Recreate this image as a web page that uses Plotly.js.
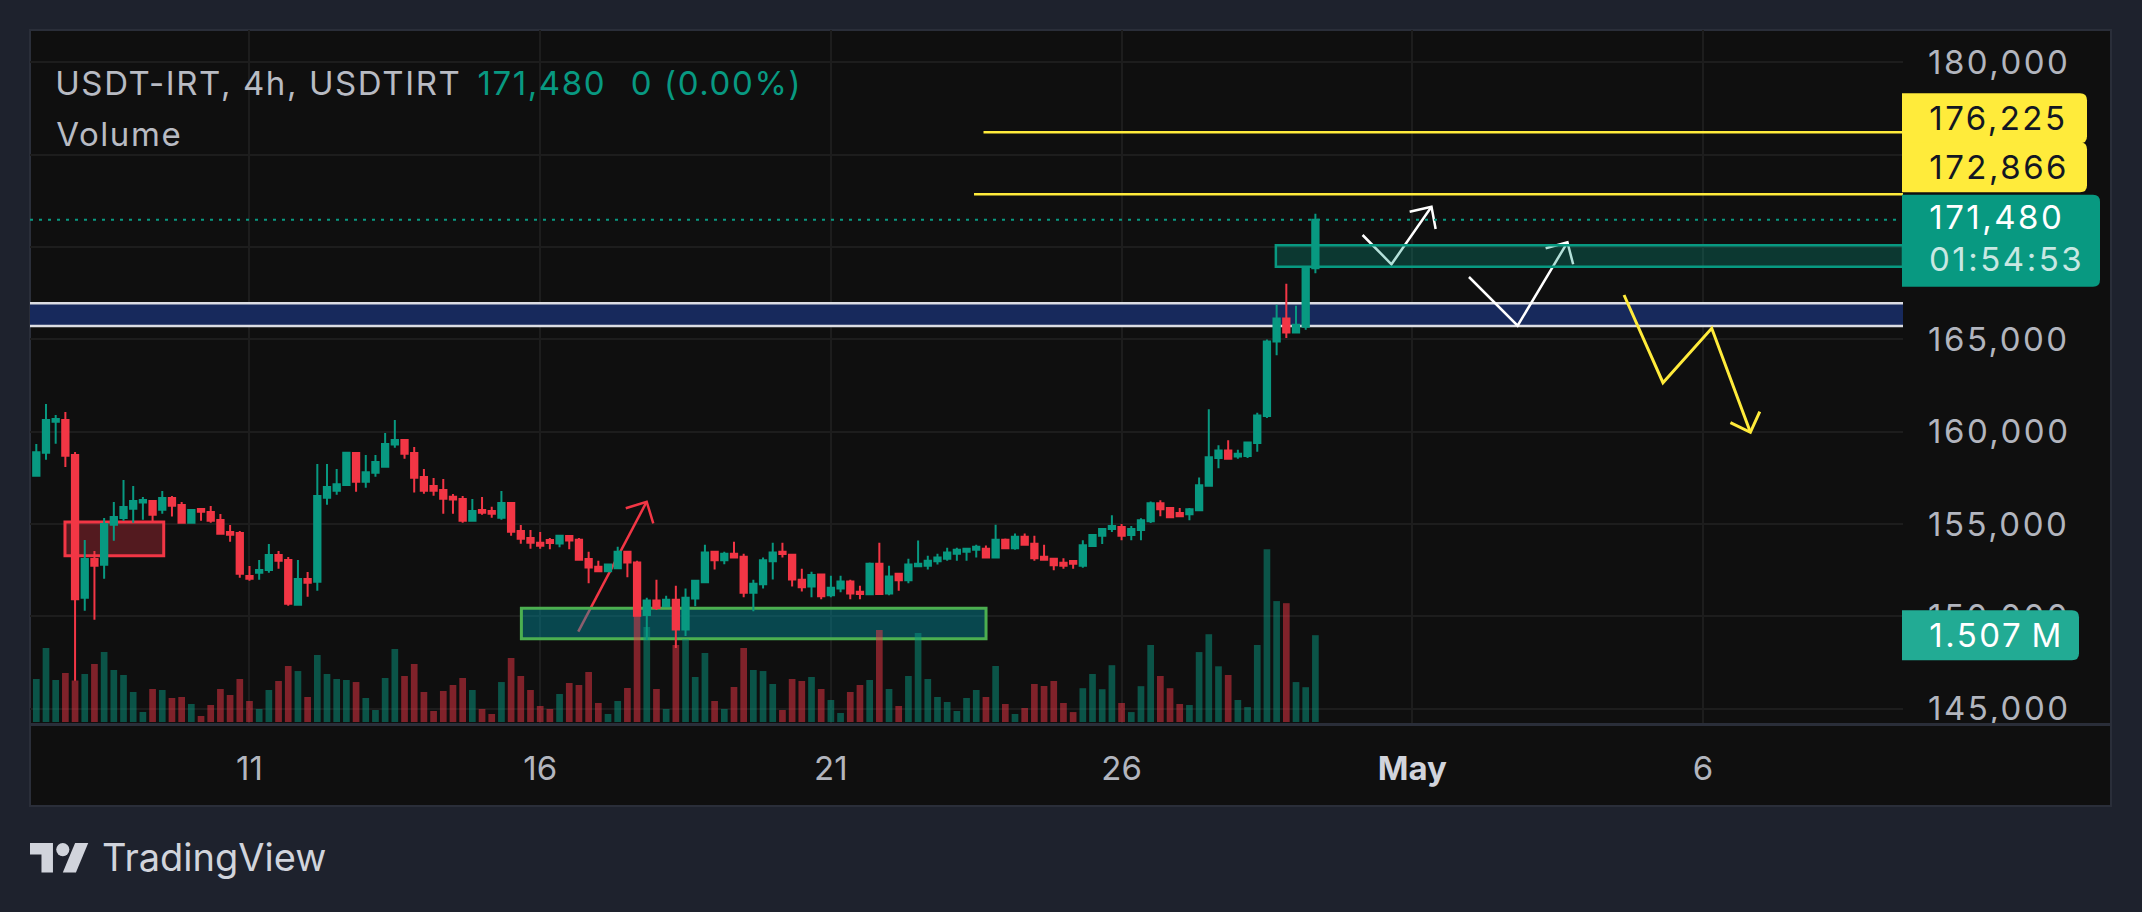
<!DOCTYPE html>
<html>
<head>
<meta charset="utf-8">
<script src="https://cdn.plot.ly/plotly-3.0.1.min.js"></script>
<style>
html,body{margin:0;padding:0;background:#1e222d;overflow:hidden;}
#chart{width:2142px;height:912px;}
.ytick text{letter-spacing:2.5px;}
g.annotation[data-index="0"] text, g.annotation[data-index="1"] text,
g.annotation[data-index="2"] text, g.annotation[data-index="3"] text{letter-spacing:1.6px;}
g.annotation[data-index="4"] text, g.annotation[data-index="5"] text,
g.annotation[data-index="6"] text, g.annotation[data-index="7"] text,
g.annotation[data-index="8"] text{letter-spacing:2.5px;}
</style>
</head>
<body>
<div id="chart"></div>
<script>
// ---------------- DATA (USDT-IRT, 4h candles) ----------------
const symbolTitle = 'USDT-IRT, 4h, USDTIRT';
const lastPriceText = '171,480';
const changeText = '0 (0.00%)';
const countdownText = '01:54:53';
const volumeLabelText = '1.507\u2009M';
const firstCandleUTC = [2025, 3, 7, 8]; // 7 Apr 2025 08:00
const candleHours = 4;

const open = [157620,158860,160540,160630,158740,151010,153100,152790,154960,155320,
155830,156170,156240,155770,156410,156030,155070,155810,155650,155210,
154560,154510,152180,152360,152510,153320,153050,150630,152020,151870,
156420,156800,157110,158840,157290,157780,158100,159310,159550,158840,
157540,157060,156840,156480,156350,155180,155760,155700,155340,156140,
154620,154240,153990,154130,153950,154350,154150,153100,152690,152440,
152600,153500,152910,150070,150850,150540,150900,149290,150970,151840,
153500,153030,153390,153230,151280,151730,152980,153500,153340,151980,
151620,152260,151140,151510,151880,151330,151190,152850,151240,152310,
151950,152710,152740,152980,153120,153390,153500,153610,153660,153180,
154150,153680,154310,153930,153230,153120,152900,152990,152740,153810,
154360,154730,154840,154400,154670,155150,156130,155860,155590,155530,
155750,157070,158580,158980,158650,158690,159390,160850,164880,166130,
165380,165690,168850];

const high = [159330,161500,160900,161070,158900,154130,153540,155320,156190,157380,
157060,156460,156300,156790,156510,156190,155760,155810,155970,155540,
154940,154620,152720,153050,153910,153540,153210,153050,152400,158250,
158250,157980,158900,158900,158740,158740,159930,160630,159600,159170,
157980,157490,157440,156620,156510,156350,156460,155940,156790,156140,
154940,154670,154560,154240,154420,154350,154240,153500,153010,152830,
153770,153500,153010,151010,151980,151120,151660,151500,151980,153880,
153500,153500,154040,153390,151980,153180,153990,153990,153340,152580,
152420,152310,152200,152200,151980,151660,152910,153990,152740,152360,
153120,154100,153280,153390,153720,153720,153660,153880,153830,154960,
154210,154480,154480,154370,153880,153130,153140,153030,154120,154450,
154730,155480,155000,154890,155310,156220,156280,155860,155860,155860,
157520,161210,159260,159530,159020,159420,161030,164990,166880,168010,
166820,168850,171810];

const low = [157560,158480,159350,158090,146510,150300,149810,152040,154090,155180,
155070,155230,155110,155560,155400,155070,155070,155180,155070,154470,
154040,152090,151930,151980,152360,152580,150570,150630,151060,151390,
156040,156590,157070,156750,156970,157560,158100,159130,158540,156700,
156640,156530,155560,155560,155070,155180,155500,155340,155230,154370,
153930,153660,153660,153630,153740,153630,153030,151790,152380,152380,
152600,152110,150030,148720,150340,150540,148280,148930,150540,151840,
152540,152820,153140,151030,150270,151510,152000,153190,151620,151350,
151030,150920,151030,151300,150920,150920,151190,151190,151140,151390,
151790,152710,152530,152800,153010,153010,153010,153180,153180,153180,
153680,153610,153880,153010,153010,152490,152570,152570,152630,153760,
153920,154560,154120,154120,154120,155060,155420,155370,155420,155200,
155690,157070,158020,158530,158530,158580,158910,160740,164140,165070,
165380,165520,168580];

const close = [158880,160630,160690,158700,150920,153100,152740,155000,155380,155920,
156240,156300,155500,156410,155990,155070,155760,155670,155180,154470,
154420,152310,152040,152510,153320,153010,150680,152020,151820,156510,
157000,157160,158860,157290,157810,158360,159330,159550,158810,157510,
156800,156800,156370,156330,155180,155700,155610,155560,156140,154580,
154200,153990,153820,153970,154370,154100,153070,152650,152440,152800,
153500,152920,150030,150850,150450,150900,149290,151010,151930,153450,
153030,153390,153180,151280,151770,153030,153450,153380,152000,151570,
152240,151080,151550,151880,151240,151210,152850,151210,152150,151950,
152800,152850,153010,153180,153450,153610,153660,153770,153180,154150,
153680,154310,153880,153140,153070,152760,152740,152850,153850,154400,
154730,154890,154360,154730,155200,156130,155800,155370,155420,155800,
157100,158620,158980,158530,158800,159420,160880,164880,166130,165380,
165800,168850,171480];

// volume in millions
const volumeM = [0.747,1.285,0.729,0.851,0.720,0.833,1.007,1.215,0.903,0.816,
0.521,0.174,0.573,0.556,0.417,0.434,0.313,0.104,0.295,0.573,
0.469,0.747,0.365,0.226,0.556,0.712,0.972,0.885,0.434,1.163,
0.833,0.747,0.729,0.694,0.417,0.208,0.764,1.267,0.799,1.007,
0.521,0.191,0.538,0.642,0.764,0.556,0.226,0.139,0.694,1.111,
0.799,0.556,0.278,0.226,0.486,0.677,0.642,0.868,0.330,0.139,
0.365,0.590,1.950,1.649,0.573,0.226,1.337,1.441,0.781,1.198,
0.365,0.226,0.608,1.285,0.903,0.885,0.660,0.208,0.747,0.712,
0.781,0.573,0.382,0.156,0.521,0.642,0.729,1.597,0.573,0.278,
0.799,1.545,0.747,0.434,0.347,0.191,0.417,0.556,0.434,0.972,
0.313,0.139,0.243,0.660,0.625,0.712,0.330,0.172,0.587,0.833,
0.569,0.986,0.330,0.172,0.622,1.337,0.799,0.587,0.313,0.295,
1.214,1.524,0.967,0.816,0.382,0.259,1.337,3.000,2.099,2.063,
0.693,0.604,1.507];

const priceTicks = [145000,150000,155000,160000,165000,170000,175000,180000];
const dateTickVals = ['2025-04-11','2025-04-16','2025-04-21','2025-04-26','2025-05-01','2025-05-06'];
const dateTickText = ['11','16','21','26','<b><span style="color:#d1d4dc">May</span></b>','6'];

const lastPrice = 171480;
const lastVolume = 1.507e6;
const yellowLevels = [176225, 172866];
const yellowLevelStart = [97.75, 96.77];       // candle index where the lines start

// user drawings (candle index, price)
const blueBand = [165726, 166955];
const tealBox = {i0: 127.92, p0: 168938, p1: 170097};
const redBox = {i0: 2.96, i1: 13.15, p0: 153283, p1: 155108};
const greenBox = {i0: 50.06, i1: 98.01, p0: 148787, p1: 150434};
const redArrow = [[55.93,149166],[62.99,156208]];
const redArrowHead = [[60.83,155851],[62.99,156208],[63.67,155038]];
const whiteArrow1 = [[136.87,170655],[139.85,169068],[143.98,172188]];
const whiteArrow1Head = [[141.73,171917],[143.98,172188],[144.41,170980]];
const whiteArrow2 = [[147.85,168380],[152.87,165742],[158.01,170260]];
const whiteArrow2Head = [[155.76,169935],[158.01,170260],[158.60,169068]];
const yellowPath = [[163.85,167405],[167.87,162654],[172.90,165601],[176.89,159968]];
const yellowPathHead = [[174.83,160488],[176.89,159968],[177.86,161083]];

// ---------------- helpers ----------------
const T0 = Date.UTC(firstCandleUTC[0], firstCandleUTC[1], firstCandleUTC[2], firstCandleUTC[3]);
function tAt(idx){
  const d = new Date(T0 + idx * candleHours * 3600e3);
  return d.toISOString().slice(0,19).replace('T',' ');
}
function tPath(idx){ return tAt(idx).replace(' ','_'); }
function pathOf(pts){ return pts.map((p,k)=>(k?'L':'M')+tPath(p[0])+','+p[1]).join(' '); }

const xs = open.map((_, i) => tAt(i));
const volume = volumeM.map(v => v * 1e6);
const GREEN = '#089981', RED = '#f23645';
const volColors = close.map((c,i)=> c >= open[i] ? 'rgba(8,153,129,0.5)' : 'rgba(242,54,69,0.5)');

// geometry of the plot area (pixels)
const W = 2142, H = 912;
const L = 30, R = 1903, T = 30, B = 724;
const PANEL_R = 2111, PANEL_B = 806;
const px = x => (x - L) / (R - L);
const py = y => (B - y) / (B - T);

const idxStart = -0.65, idxEnd = 192.64;
const xStart = tAt(idxStart), xEnd = tAt(idxEnd);
const yMin = 144166, yMax = 181760;
const volMin = -34724, volMax = 12014504;
const yPix = p => T + (yMax - p) / (yMax - yMin) * (B - T);

const FONT = 'Inter, Roboto, "Noto Sans", sans-serif';
const GRID = '#1d1d1d';

// ---------------- traces ----------------
const candleTrace = {
  type: 'candlestick', x: xs, open: open, high: high, low: low, close: close,
  xaxis: 'x', yaxis: 'y', whiskerwidth: 0, hoverinfo: 'skip',
  increasing: {line: {color: GREEN, width: 2}, fillcolor: GREEN},
  decreasing: {line: {color: RED, width: 2}, fillcolor: RED}
};
const volTrace = {
  type: 'bar', x: xs, y: volume, xaxis: 'x', yaxis: 'y2',
  marker: {color: volColors, line: {width: 0}}, hoverinfo: 'skip'
};

// ---------------- shapes ----------------
function rectPx(x0,y0,x1,y1,fill,line,lw,layer){
  return {type:'rect', xref:'paper', yref:'paper', x0:px(x0), x1:px(x1), y0:py(y0), y1:py(y1),
    fillcolor:fill, line:{color:line||'rgba(0,0,0,0)', width:lw||0}, layer:layer||'below'};
}
function labelShape(x0,y0,x1,y1,fill){
  const r = 7;
  const d = 'M'+px(x0)+','+py(y0)+' L'+px(x1-r)+','+py(y0)+
    ' Q'+px(x1)+','+py(y0)+' '+px(x1)+','+py(y0+r)+
    ' L'+px(x1)+','+py(y1-r)+
    ' Q'+px(x1)+','+py(y1)+' '+px(x1-r)+','+py(y1)+
    ' L'+px(x0)+','+py(y1)+' Z';
  return {type:'path', xref:'paper', yref:'paper', path:d, fillcolor:fill, line:{width:0}, layer:'above'};
}

const shapes = [];
// panel background + border
shapes.push(rectPx(L, T, PANEL_R, PANEL_B, '#0f0f0f', '#2a2e39', 2, 'below'));
// blue band
shapes.push({type:'rect', xref:'x', yref:'y', x0:xStart, x1:xEnd, y0:blueBand[0], y1:blueBand[1],
  fillcolor:'#17295c', line:{width:0}, layer:'between'});
blueBand.forEach(p => shapes.push({type:'line', xref:'x', yref:'y', x0:xStart, x1:xEnd, y0:p, y1:p,
  line:{color:'#dcdde3', width:2.5}, layer:'between'}));
// arrows
shapes.push({type:'path', xref:'x', yref:'y', path:pathOf(redArrow), line:{color:RED, width:2.5}, layer:'between'});
shapes.push({type:'path', xref:'x', yref:'y', path:pathOf(redArrowHead), line:{color:RED, width:2.5}, layer:'between'});
[whiteArrow1, whiteArrow1Head, whiteArrow2, whiteArrow2Head].forEach(a =>
  shapes.push({type:'path', xref:'x', yref:'y', path:pathOf(a), line:{color:'#ffffff', width:2.5}, layer:'between'}));
[yellowPath, yellowPathHead].forEach(a =>
  shapes.push({type:'path', xref:'x', yref:'y', path:pathOf(a), line:{color:'#ffeb3b', width:3}, layer:'between'}));
// boxes
shapes.push({type:'rect', xref:'x', yref:'y', x0:tAt(tealBox.i0), x1:xEnd, y0:tealBox.p0, y1:tealBox.p1,
  fillcolor:'rgba(8,153,129,0.3)', line:{color:GREEN, width:2.5}, layer:'between'});
shapes.push({type:'rect', xref:'x', yref:'y', x0:tAt(redBox.i0), x1:tAt(redBox.i1), y0:redBox.p0, y1:redBox.p1,
  fillcolor:'rgba(242,54,69,0.3)', line:{color:RED, width:3}, layer:'between'});
shapes.push({type:'rect', xref:'x', yref:'y', x0:tAt(greenBox.i0), x1:tAt(greenBox.i1), y0:greenBox.p0, y1:greenBox.p1,
  fillcolor:'rgba(0,151,167,0.42)', line:{color:'#4caf50', width:3}, layer:'between'});
// yellow horizontal levels
yellowLevels.forEach((p,k) => shapes.push({type:'line', xref:'x', yref:'y', x0:tAt(yellowLevelStart[k]), x1:xEnd,
  y0:p, y1:p, line:{color:'#ffeb3b', width:2.5}, layer:'between'}));
// last price dotted line
shapes.push({type:'line', xref:'x', yref:'y', x0:xStart, x1:xEnd, y0:lastPrice, y1:lastPrice,
  line:{color:GREEN, width:2, dash:'3px,6px'}, layer:'between'});
// separator between pane and time axis
shapes.push(rectPx(L, B-1, PANEL_R, B+2, '#2a2e39', null, 0, 'above'));

// price-scale labels
const yl1 = yPix(yellowLevels[0]) - 14, yl2 = yPix(yellowLevels[1]) - 27;
shapes.push(labelShape(1902, yl1-25, 2087, yl1+25, '#ffeb3b'));
shapes.push(labelShape(1902, yl2-25, 2087, yl2+25, '#ffeb3b'));
const ylp = yPix(lastPrice);
shapes.push(labelShape(1902, ylp-25, 2100, ylp+67, GREEN));
const volPix = T + (volMax - lastVolume) / (volMax - volMin) * (B - T);
shapes.push(labelShape(1902, volPix-25, 2079, volPix+25, '#22ab94'));

// TradingView logo
const s = 1.64, ox = 30, oy = 836.5;
const lp = (x,y) => px(ox + x*s) + ',' + py(oy + y*s);
shapes.push({type:'path', xref:'paper', yref:'paper', layer:'above', fillcolor:'#d1d4dc', line:{width:0},
  path:'M'+lp(14,22)+' L'+lp(7,22)+' L'+lp(7,11)+' L'+lp(0,11)+' L'+lp(0,4)+' L'+lp(14,4)+' Z'});
shapes.push({type:'circle', xref:'paper', yref:'paper', layer:'above', fillcolor:'#d1d4dc', line:{width:0},
  x0:px(ox+16*s), x1:px(ox+24*s), y0:py(oy+4*s), y1:py(oy+12*s)});
shapes.push({type:'path', xref:'paper', yref:'paper', layer:'above', fillcolor:'#d1d4dc', line:{width:0},
  path:'M'+lp(28,22)+' L'+lp(20,22)+' L'+lp(27.5,4)+' L'+lp(35.5,4)+' Z'});

// ---------------- annotations ----------------
// comp = fraction of the CSS letter spacing to compensate so the text starts at x
function txt(text, x, y, size, color, ls, comp){
  const n = text.length;
  return {xref:'paper', yref:'paper', x:px(x + n * (ls||0) * (comp||0)), y:py(y), xanchor:'left', yanchor:'middle',
    text:text, showarrow:false, font:{family:FONT, size:size, color:color}};
}
const annotations = [
  txt(symbolTitle, 53, 83, 33, '#b8bbc3', 1.6, 0.5),
  txt(lastPriceText, 475, 83, 33, GREEN, 1.6, 0.5),
  txt(changeText, 629, 83, 33, GREEN, 1.6, 0.5),
  txt('Volume', 54, 134, 33, '#b8bbc3', 1.6, 0.5),
  txt(yellowLevels[0].toLocaleString('en-US'), 1930, yl1, 33, '#131722', 2.5, 0.34),
  txt(yellowLevels[1].toLocaleString('en-US'), 1930, yl2, 33, '#131722', 2.5, 0.34),
  txt(lastPriceText, 1930, ylp-3, 33, '#ffffff', 2.5, 0.34),
  txt(countdownText, 1930, ylp+39, 33, 'rgba(255,255,255,0.78)', 2.5, 0.34),
  txt(volumeLabelText, 1930, volPix, 33, '#ffffff', 2.5, 0.34),
  txt('TradingView', 100, 857, 38, '#d1d4dc', 0, 0)
];

// ---------------- layout ----------------
const layout = {
  width: W, height: H,
  margin: {l: L, r: W - R, t: T, b: H - B, pad: 0},
  paper_bgcolor: '#1e222d', plot_bgcolor: '#0f0f0f',
  showlegend: false,
  boxgap: 0.35, boxgroupgap: 0, bargap: 0.31,
  font: {family: FONT, color: '#b2b5be', size: 33},
  xaxis: {
    type: 'date', range: [xStart, xEnd], rangeslider: {visible: false},
    tickmode: 'array', tickvals: dateTickVals, ticktext: dateTickText,
    showgrid: true, gridcolor: GRID, gridwidth: 2, zeroline: false, showline: false,
    ticks: '', ticklabelstandoff: 22, tickfont: {family: FONT, size: 33, color: '#b2b5be'},
    fixedrange: true
  },
  yaxis: {
    side: 'right', range: [yMin, yMax],
    tickmode: 'array', tickvals: priceTicks, tickformat: ',d',
    showgrid: true, gridcolor: GRID, gridwidth: 2, zeroline: false, showline: false,
    ticks: '', ticklabelstandoff: 24, tickfont: {family: FONT, size: 33, color: '#b2b5be'},
    fixedrange: true
  },
  yaxis2: {
    overlaying: 'y', side: 'left', range: [volMin, volMax], showgrid: false, showticklabels: false,
    zeroline: false, showline: false, fixedrange: true
  },
  shapes: shapes,
  annotations: annotations
};

Plotly.newPlot('chart', [candleTrace, volTrace], layout, {staticPlot: true, displayModeBar: false});
</script>
</body>
</html>
